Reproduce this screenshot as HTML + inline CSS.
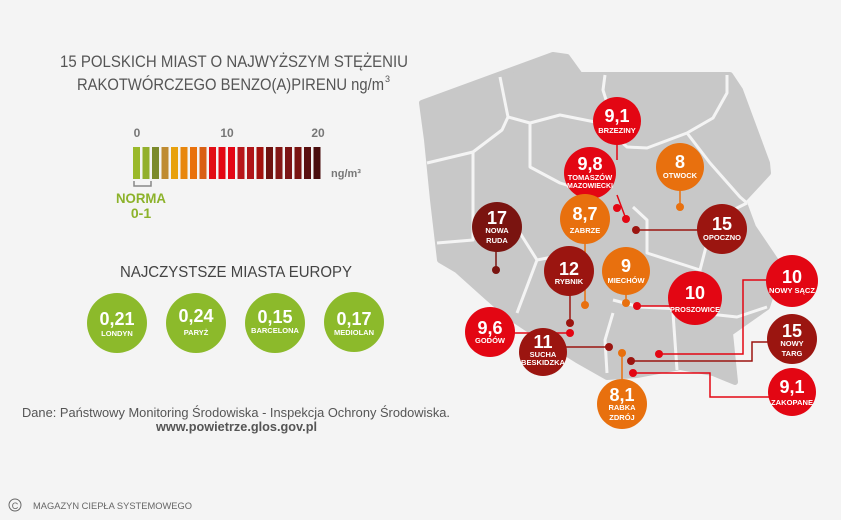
<!DOCTYPE html>
<html><head><meta charset="utf-8"><style>
html,body{margin:0;padding:0;background:#f4f4f4;}
svg{display:block;font-family:"Liberation Sans",sans-serif;}
.n{font-weight:bold;fill:#fff;font-size:18px;text-anchor:middle;}
.c{font-weight:bold;fill:#fff;font-size:7.5px;text-anchor:middle;}
</style></head><body>
<svg width="841" height="520" viewBox="0 0 841 520" xmlns="http://www.w3.org/2000/svg">
<rect width="841" height="520" fill="#f4f4f4"/>
<path d="M422,103 L553,55 L567,57 L580,75 L730,75 L740,90 L767,163 L768,173 L743,200 L753,227 L780,267 L767,307 L730,333 L735,382 L713,373 L680,367 L637,375 L607,377 L577,360 L540,337 L510,317 L487,297 L457,270 L440,260 L433,200 L427,140 Z" fill="#c8c8c8" stroke="#c8c8c8" stroke-width="6" stroke-linejoin="round"/>
<g fill="none" stroke="#f4f4f4" stroke-width="3" stroke-linejoin="round">
<polyline points="500,77 508,117 502,130 473,152 427,163"/>
<polyline points="508,117 530,123 560,115 600,123 627,147 647,148 687,133 713,118 727,93 727,75"/>
<polyline points="605,75 603,90 607,103 617,112"/>
<polyline points="530,123 530,167 560,183 593,193"/>
<polyline points="473,152 473,240 437,243"/>
<polyline points="687,133 710,163 740,197 747,203"/>
<polyline points="633,207 647,220 647,253 700,270 700,313 737,317 767,307"/>
<polyline points="520,233 537,260 517,313"/>
<polyline points="537,260 573,253"/>
<polyline points="613,300 640,307 700,310"/>
<polyline points="613,313 605,340 607,373"/>
<polyline points="673,313 677,370"/>
<polyline points="747,203 713,220 700,270"/>
</g>
<g fill="none" stroke-width="1.5">
<line x1="617" y1="140" x2="617" y2="160" stroke="#e30613"/>
<line x1="617" y1="195" x2="626" y2="219" stroke="#e30613"/>
<line x1="636" y1="230" x2="700" y2="230" stroke="#9b1510"/>
<line x1="680" y1="190" x2="680" y2="207" stroke="#e8700e"/>
<line x1="496" y1="250" x2="496" y2="270" stroke="#7a1410"/>
<line x1="585" y1="240" x2="585" y2="305" stroke="#e8700e"/>
<line x1="570" y1="295" x2="570" y2="323" stroke="#9b1510"/>
<line x1="512" y1="333" x2="570" y2="333" stroke="#e30613"/>
<line x1="565" y1="347" x2="609" y2="347" stroke="#9b1510"/>
<line x1="622" y1="353" x2="622" y2="385" stroke="#e8700e"/>
<line x1="626" y1="294" x2="626" y2="303" stroke="#e8700e"/>
<line x1="637" y1="306" x2="670" y2="306" stroke="#e30613"/>
<polyline points="659,354 743,354 743,280 770,280" stroke="#e30613"/>
<polyline points="631,361 752,361 752,342 770,342" stroke="#9b1510"/>
<polyline points="633,373 710,373 710,397 770,397" stroke="#e30613"/>
</g>
<g>
<circle cx="617" cy="208" r="4" fill="#e30613"/><circle cx="626" cy="219" r="4" fill="#e30613"/>
<circle cx="636" cy="230" r="4" fill="#9b1510"/><circle cx="680" cy="207" r="4" fill="#e8700e"/>
<circle cx="496" cy="270" r="4" fill="#7a1410"/><circle cx="585" cy="305" r="4" fill="#e8700e"/>
<circle cx="570" cy="323" r="4" fill="#9b1510"/><circle cx="570" cy="333" r="4" fill="#e30613"/>
<circle cx="609" cy="347" r="4" fill="#9b1510"/><circle cx="622" cy="353" r="4" fill="#e8700e"/>
<circle cx="626" cy="303" r="4" fill="#e8700e"/><circle cx="637" cy="306" r="4" fill="#e30613"/>
<circle cx="659" cy="354" r="4" fill="#e30613"/><circle cx="631" cy="361" r="4" fill="#9b1510"/>
<circle cx="633" cy="373" r="4" fill="#e30613"/>
</g>
<g>
<circle cx="617" cy="121" r="24" fill="#e30613"/><text class="n" x="617" y="122">9,1</text><text class="c" x="617" y="133">BRZEZINY</text>
<circle cx="590" cy="173" r="26" fill="#e30613"/><text class="n" x="590" y="170">9,8</text><text class="c" x="590" y="180">TOMASZÓW</text><text class="c" x="590" y="188" textLength="46" lengthAdjust="spacingAndGlyphs">MAZOWIECKI</text>
<circle cx="680" cy="167" r="24" fill="#e8700e"/><text class="n" x="680" y="168">8</text><text class="c" x="680" y="178">OTWOCK</text>
<circle cx="722" cy="229" r="25" fill="#9b1510"/><text class="n" x="722" y="230">15</text><text class="c" x="722" y="240">OPOCZNO</text>
<circle cx="497" cy="227" r="25" fill="#7a1410"/><text class="n" x="497" y="224">17</text><text class="c" x="497" y="233">NOWA</text><text class="c" x="497" y="243">RUDA</text>
<circle cx="585" cy="219" r="25" fill="#e8700e"/><text class="n" x="585" y="220">8,7</text><text class="c" x="585" y="233">ZABRZE</text>
<circle cx="569" cy="271" r="25" fill="#9b1510"/><text class="n" x="569" y="275">12</text><text class="c" x="569" y="284">RYBNIK</text>
<circle cx="626" cy="271" r="24" fill="#e8700e"/><text class="n" x="626" y="272">9</text><text class="c" x="626" y="283">MIECHÓW</text>
<circle cx="695" cy="298" r="27" fill="#e30613"/><text class="n" x="695" y="299">10</text><text class="c" x="695" y="312" textLength="50" lengthAdjust="spacingAndGlyphs">PROSZOWICE</text>
<circle cx="490" cy="332" r="25" fill="#e30613"/><text class="n" x="490" y="334">9,6</text><text class="c" x="490" y="343">GODÓW</text>
<circle cx="543" cy="352" r="24" fill="#9b1510"/><text class="n" x="543" y="348">11</text><text class="c" x="543" y="357">SUCHA</text><text class="c" x="543" y="365" textLength="44" lengthAdjust="spacingAndGlyphs">BESKIDZKA</text>
<circle cx="622" cy="404" r="25" fill="#e8700e"/><text class="n" x="622" y="401">8,1</text><text class="c" x="622" y="410">RABKA</text><text class="c" x="622" y="420">ZDRÓJ</text>
<circle cx="792" cy="281" r="26" fill="#e30613"/><text class="n" x="792" y="283">10</text><text class="c" x="792" y="293" textLength="46" lengthAdjust="spacingAndGlyphs">NOWY SĄCZ</text>
<circle cx="792" cy="339" r="25" fill="#9b1510"/><text class="n" x="792" y="337">15</text><text class="c" x="792" y="346">NOWY</text><text class="c" x="792" y="356">TARG</text>
<circle cx="792" cy="392" r="24" fill="#e30613"/><text class="n" x="792" y="393">9,1</text><text class="c" x="792" y="405" textLength="42" lengthAdjust="spacingAndGlyphs">ZAKOPANE</text>
</g>
<text x="60" y="67" font-size="17" fill="#555" textLength="348" lengthAdjust="spacingAndGlyphs">15 POLSKICH MIAST O NAJWYŻSZYM STĘŻENIU</text>
<text x="77" y="90" font-size="17" fill="#555" textLength="307" lengthAdjust="spacingAndGlyphs">RAKOTWÓRCZEGO BENZO(A)PIRENU ng/m</text>
<text x="385" y="82" font-size="9" fill="#555">3</text>
<g font-weight="bold" font-size="12" fill="#777" text-anchor="middle">
<text x="137" y="137">0</text><text x="227" y="137">10</text><text x="318" y="137">20</text>
</g>
<g>
<rect x="133" y="147" width="7" height="32" fill="#9ab92a"/>
<rect x="142.5" y="147" width="7" height="32" fill="#93b02c"/>
<rect x="152" y="147" width="7" height="32" fill="#7b8a2b"/>
<rect x="161.5" y="147" width="7" height="32" fill="#bf8b31"/>
<rect x="171" y="147" width="7" height="32" fill="#e8a10d"/>
<rect x="180.5" y="147" width="7" height="32" fill="#e8870e"/>
<rect x="190" y="147" width="7" height="32" fill="#e9710c"/>
<rect x="199.5" y="147" width="7" height="32" fill="#d95f13"/>
<rect x="209" y="147" width="7" height="32" fill="#e20e16"/>
<rect x="218.5" y="147" width="7" height="32" fill="#e30613"/>
<rect x="228" y="147" width="7" height="32" fill="#e40615"/>
<rect x="237.5" y="147" width="7" height="32" fill="#b7161a"/>
<rect x="247" y="147" width="7" height="32" fill="#b01518"/>
<rect x="256.5" y="147" width="7" height="32" fill="#a3120e"/>
<rect x="266" y="147" width="7" height="32" fill="#6e1310"/>
<rect x="275.5" y="147" width="7" height="32" fill="#841715"/>
<rect x="285" y="147" width="7" height="32" fill="#7c1414"/>
<rect x="294.5" y="147" width="7" height="32" fill="#7a1411"/>
<rect x="304" y="147" width="7" height="32" fill="#5a1010"/>
<rect x="313.5" y="147" width="7" height="32" fill="#4a0e0e"/>
</g>
<polyline points="134,181 134,186 151,186 151,181" fill="none" stroke="#888" stroke-width="1.5"/>
<text x="331" y="177" font-size="11" font-weight="bold" fill="#777">ng/m³</text>
<text x="141" y="203" font-size="14" font-weight="bold" fill="#8cb22a" text-anchor="middle" textLength="50" lengthAdjust="spacingAndGlyphs">NORMA</text>
<text x="141" y="218" font-size="14" font-weight="bold" fill="#8cb22a" text-anchor="middle">0-1</text>
<text x="120" y="277" font-size="16" fill="#444" textLength="232" lengthAdjust="spacingAndGlyphs">NAJCZYSTSZE MIASTA EUROPY</text>
<g>
<circle cx="117" cy="323" r="30" fill="#8cba2b"/><text class="n" x="117" y="325">0,21</text><text class="c" x="117" y="336">LONDYN</text>
<circle cx="196" cy="323" r="30" fill="#8cba2b"/><text class="n" x="196" y="322">0,24</text><text class="c" x="196" y="335">PARYŻ</text>
<circle cx="275" cy="323" r="30" fill="#8cba2b"/><text class="n" x="275" y="323">0,15</text><text class="c" x="275" y="333">BARCELONA</text>
<circle cx="354" cy="322" r="30" fill="#8cba2b"/><text class="n" x="354" y="325">0,17</text><text class="c" x="354" y="335">MEDIOLAN</text>
</g>
<text x="22" y="417" font-size="13" fill="#555" textLength="428" lengthAdjust="spacingAndGlyphs">Dane: Państwowy Monitoring Środowiska - Inspekcja Ochrony Środowiska.</text>
<text x="156" y="431" font-size="13" font-weight="bold" fill="#555" textLength="161" lengthAdjust="spacingAndGlyphs">www.powietrze.glos.gov.pl</text>
<circle cx="15" cy="505" r="6" fill="none" stroke="#666" stroke-width="1"/>
<text x="15" y="509" font-size="9" fill="#666" text-anchor="middle">C</text>
<text x="33" y="509" font-size="9" fill="#666" textLength="159" lengthAdjust="spacingAndGlyphs">MAGAZYN CIEPŁA SYSTEMOWEGO</text>
</svg>
</body></html>
